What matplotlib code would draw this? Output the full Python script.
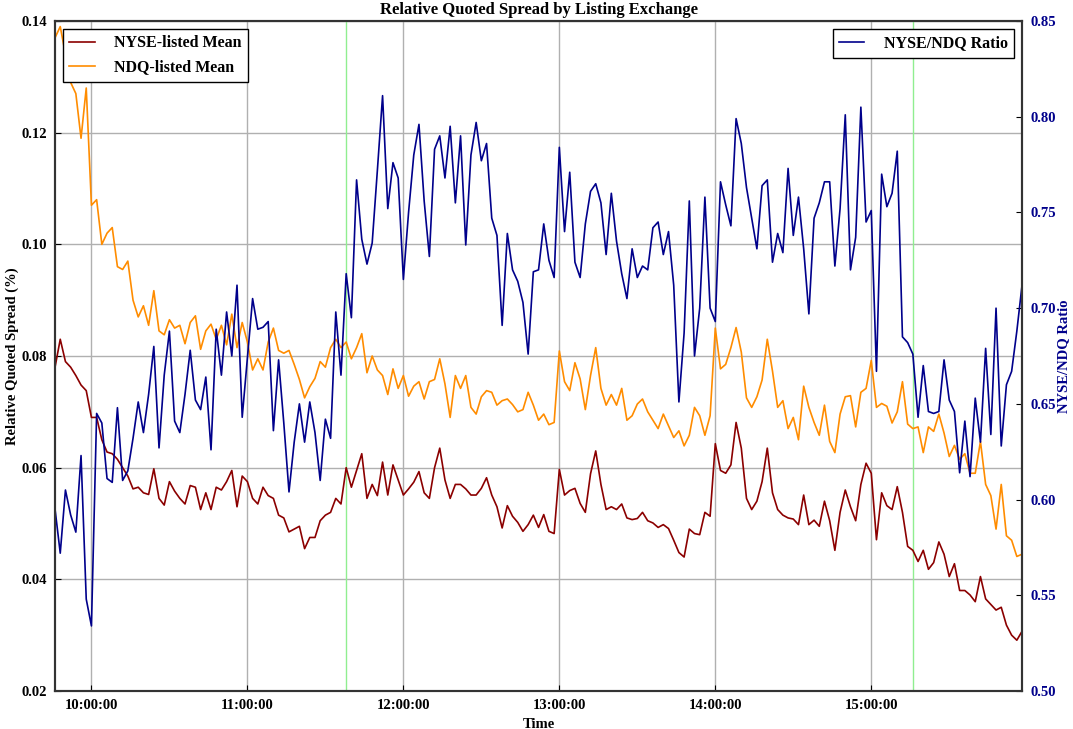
import pandas as pd
import matplotlib
matplotlib.use("Agg")
import matplotlib.pyplot as plt
import matplotlib.dates as mdates
from matplotlib.ticker import FormatStrFormatter, MultipleLocator

# Two-minute sampling of the trading session
times = pd.date_range("2015-01-02 09:46", "2015-01-02 15:58", freq="2min")

# Mean relative quoted spread (%) for NYSE-listed stocks
nyse_mean = [
    0.078, 0.083, 0.079, 0.078, 0.0765, 0.0748, 0.0738, 0.069, 0.069, 0.065,
    0.0628, 0.0625, 0.0615, 0.0600, 0.0585, 0.0562, 0.0565, 0.0555, 0.0552, 0.0598,
    0.0545, 0.0533, 0.0575, 0.0558, 0.0545, 0.0535, 0.0568, 0.0565, 0.0525, 0.0555,
    0.0525, 0.0565, 0.056, 0.0575, 0.0595, 0.053, 0.0585, 0.0575, 0.0545, 0.0535,
    0.0565, 0.0550, 0.0545, 0.0515, 0.051, 0.0485, 0.049, 0.0495, 0.0455, 0.0475,
    0.0475, 0.0505, 0.0515, 0.052, 0.0545, 0.0535, 0.060, 0.0565, 0.0595, 0.0625,
    0.0545, 0.057, 0.0550, 0.061,
    0.0551, 0.0605, 0.0578, 0.0551, 0.0562, 0.0574, 0.0593, 0.0555, 0.0545, 0.0600,
    0.0635, 0.0578, 0.0545, 0.0570, 0.0570, 0.0562, 0.0551, 0.0551, 0.0563, 0.0582,
    0.0551, 0.0530, 0.0492, 0.0532, 0.0513, 0.0502, 0.0486, 0.0498, 0.0515, 0.0493,
    0.0516, 0.0486, 0.0482, 0.0597, 0.0551, 0.0559, 0.0563, 0.0536, 0.0520, 0.0589,
    0.0630, 0.0570, 0.0525, 0.0530, 0.0525, 0.0535, 0.0510, 0.0507, 0.0509, 0.0520,
    0.0505, 0.0501, 0.0493, 0.0498, 0.0491, 0.0470, 0.0448, 0.0440, 0.0490, 0.0482,
    0.0480, 0.0520, 0.0513,
    0.0643, 0.0595, 0.0590, 0.0605, 0.0681, 0.0635, 0.0545, 0.0525, 0.0540, 0.0575,
    0.0635, 0.0555, 0.0525, 0.0515, 0.0510, 0.0508, 0.0498, 0.0551, 0.0498, 0.0506,
    0.0495, 0.0540, 0.0505, 0.0452, 0.0520, 0.0560, 0.0530, 0.0505, 0.0570, 0.0608,
    0.0590, 0.0471, 0.0555, 0.0532, 0.0525, 0.0566, 0.0520, 0.0459, 0.0452, 0.0432,
    0.0452, 0.0418, 0.0430, 0.0467, 0.0445, 0.0405, 0.0428, 0.0380, 0.0380, 0.0372,
    0.0360, 0.0405, 0.0365, 0.0355, 0.0345, 0.0350, 0.0318, 0.0300, 0.0291, 0.0307,
]

# Mean relative quoted spread (%) for Nasdaq-listed stocks
ndq_mean = [
    0.137, 0.139, 0.134, 0.129, 0.127, 0.119, 0.128, 0.107, 0.108, 0.100,
    0.102, 0.103, 0.096, 0.0955, 0.097, 0.090, 0.087, 0.089, 0.0855, 0.0917,
    0.0845, 0.0838, 0.0865, 0.085, 0.0855, 0.0822, 0.086, 0.0872, 0.0812, 0.0845,
    0.0857, 0.083, 0.0855, 0.082, 0.0875, 0.0815, 0.086, 0.0825, 0.0775, 0.0795,
    0.0775, 0.0825, 0.085, 0.081, 0.0805, 0.081, 0.0785, 0.0758, 0.0725, 0.0745,
    0.076, 0.079, 0.078, 0.0815, 0.083, 0.0815, 0.0825, 0.0795, 0.0815, 0.084,
    0.077, 0.080, 0.0775, 0.0765,
    0.0731, 0.0777, 0.0742, 0.0765, 0.0728, 0.0746, 0.0754, 0.0723, 0.0754, 0.0758,
    0.0795, 0.0750, 0.0690, 0.0765, 0.0742, 0.0765, 0.0708, 0.0696, 0.0727, 0.0738,
    0.0735, 0.0712, 0.0720, 0.0723, 0.0713, 0.0700, 0.0704, 0.0735, 0.0712, 0.0685,
    0.0696, 0.0677, 0.0681, 0.0809, 0.0754, 0.0738, 0.0788, 0.0759, 0.0704, 0.0765,
    0.0815, 0.0742, 0.0712, 0.0731, 0.0712, 0.0742, 0.0685, 0.0693, 0.0714, 0.0723,
    0.0700, 0.0685, 0.0670, 0.0696, 0.0675, 0.0654, 0.0666, 0.0639, 0.0658, 0.0708,
    0.0693, 0.0658, 0.0693,
    0.0850, 0.0777, 0.0785, 0.0815, 0.0851, 0.0807, 0.0725, 0.0708, 0.0727, 0.0757,
    0.0830, 0.0773, 0.0708, 0.0720, 0.0670, 0.0690, 0.0650, 0.0746, 0.0708, 0.0681,
    0.0658, 0.0712, 0.0647, 0.0627, 0.0696, 0.0727, 0.0729, 0.0673, 0.0735, 0.0742,
    0.0792, 0.0708, 0.0715, 0.0710, 0.0680, 0.0700, 0.0754, 0.0678, 0.0670, 0.0673,
    0.0627, 0.0673, 0.0665, 0.0696, 0.0662, 0.0620, 0.0640, 0.0615, 0.0625, 0.0590,
    0.0590, 0.0647, 0.0570, 0.0550, 0.0490, 0.0570, 0.0478, 0.0470, 0.0441, 0.0445,
]

# Ratio of NYSE-listed to Nasdaq-listed spreads
ratio = [
    0.595, 0.572, 0.605, 0.592, 0.583, 0.623, 0.548, 0.534, 0.645, 0.640,
    0.611, 0.609, 0.648, 0.610, 0.615, 0.632, 0.651, 0.635, 0.655, 0.680,
    0.627, 0.665, 0.688, 0.641, 0.635, 0.655, 0.678, 0.652, 0.647, 0.664,
    0.626, 0.689, 0.665, 0.698, 0.675, 0.712, 0.643, 0.674, 0.705, 0.689,
    0.690, 0.693, 0.636, 0.673, 0.640, 0.604, 0.630, 0.650, 0.630, 0.651,
    0.635, 0.610, 0.642, 0.632, 0.698, 0.665, 0.718, 0.695, 0.767, 0.736,
    0.723, 0.734, 0.772, 0.811,
    0.752, 0.776, 0.768, 0.715, 0.750, 0.780, 0.796, 0.756, 0.727, 0.783,
    0.790, 0.768, 0.795, 0.755, 0.790, 0.733, 0.780, 0.797, 0.777, 0.786,
    0.747, 0.738, 0.691, 0.739, 0.720, 0.714, 0.703, 0.676, 0.719, 0.720,
    0.744, 0.725, 0.716, 0.784, 0.740, 0.771, 0.724, 0.716, 0.744, 0.761,
    0.765, 0.755, 0.728, 0.760, 0.735, 0.718, 0.705, 0.731, 0.716, 0.722,
    0.720, 0.742, 0.745, 0.728, 0.740, 0.712, 0.651, 0.687, 0.756, 0.675,
    0.700, 0.758, 0.700,
    0.693, 0.766, 0.754, 0.743, 0.799, 0.786, 0.763, 0.747, 0.731, 0.764,
    0.767, 0.724, 0.739, 0.729, 0.773, 0.738, 0.758, 0.731, 0.697, 0.747,
    0.755, 0.766, 0.766, 0.722, 0.752, 0.801, 0.720, 0.737, 0.805, 0.745,
    0.751, 0.667, 0.770, 0.753, 0.760, 0.782, 0.685, 0.682, 0.676, 0.643,
    0.670, 0.646, 0.645, 0.646, 0.673, 0.652, 0.646, 0.614, 0.641, 0.612,
    0.653, 0.630, 0.679, 0.634, 0.700, 0.628, 0.660, 0.667, 0.688, 0.712,
]

# Marked event times
event_times = ["2015-01-02 11:38", "2015-01-02 15:16"]

plt.rcParams["font.family"] = ["Liberation Serif", "DejaVu Serif"]
plt.rcParams["font.weight"] = "bold"
plt.rcParams["axes.labelweight"] = "bold"
plt.rcParams["axes.titleweight"] = "bold"

fig = plt.figure(figsize=(10.73, 7.29), dpi=100)
ax = fig.add_axes([0.0513, 0.0521, 0.9012, 0.9191])

ax.grid(True, color="#b0b0b0", linewidth=1.0, linestyle="-")
ax.set_axisbelow(True)
for t in event_times:
    ax.axvline(pd.Timestamp(t), color="lightgreen", linewidth=1.0, zorder=1.5)

ax.plot(times, nyse_mean, color="darkred", linewidth=1.2, label="NYSE-listed Mean")
ax.plot(times, ndq_mean, color="darkorange", linewidth=1.2, label="NDQ-listed Mean")

ax.set_xlim(times[0], times[-1])
ax.set_ylim(0.02, 0.14)
ax.yaxis.set_major_locator(MultipleLocator(0.02))
ax.yaxis.set_major_formatter(FormatStrFormatter("%.2f"))
ax.xaxis.set_major_locator(mdates.HourLocator())
ax.xaxis.set_major_formatter(mdates.DateFormatter("%H:%M:%S"))
ax.tick_params(direction="in", length=4, labelsize=10.5, pad=6)

ax2 = ax.twinx()
ax2.plot(times, ratio, color="darkblue", linewidth=1.2, label="NYSE/NDQ Ratio")
ax2.set_ylim(0.50, 0.85)
ax2.yaxis.set_major_locator(MultipleLocator(0.05))
ax2.yaxis.set_major_formatter(FormatStrFormatter("%.2f"))
ax2.tick_params(direction="in", length=4, labelsize=10.5, pad=6,
                colors="black", labelcolor="darkblue")

for a in (ax, ax2):
    for s in a.spines.values():
        s.set_linewidth(1.5)
        s.set_color("#333333")

ax.set_xlabel("Time", fontsize=10.5, labelpad=4)
ax.set_ylabel("Relative Quoted Spread (%)", fontsize=10.5)
ax.yaxis.set_label_coords(-0.037, 0.5)
ax2.set_ylabel("NYSE/NDQ Ratio", fontsize=10.5, color="darkblue")
ax2.yaxis.set_label_coords(1.036, 0.5)
ax.set_title("Relative Quoted Spread by Listing Exchange", fontsize=12, pad=5)

leg_kw = dict(fancybox=False, edgecolor="black", framealpha=1.0, fontsize=11.5,
              handlelength=1.6, handletextpad=1.2, borderaxespad=0.5)
leg1 = ax.legend(loc="upper left", **leg_kw)
leg1.get_frame().set_linewidth(1.0)
leg2 = ax2.legend(loc="upper right", **leg_kw)
leg2.get_frame().set_linewidth(1.0)

fig.savefig("out.png", dpi=100)
